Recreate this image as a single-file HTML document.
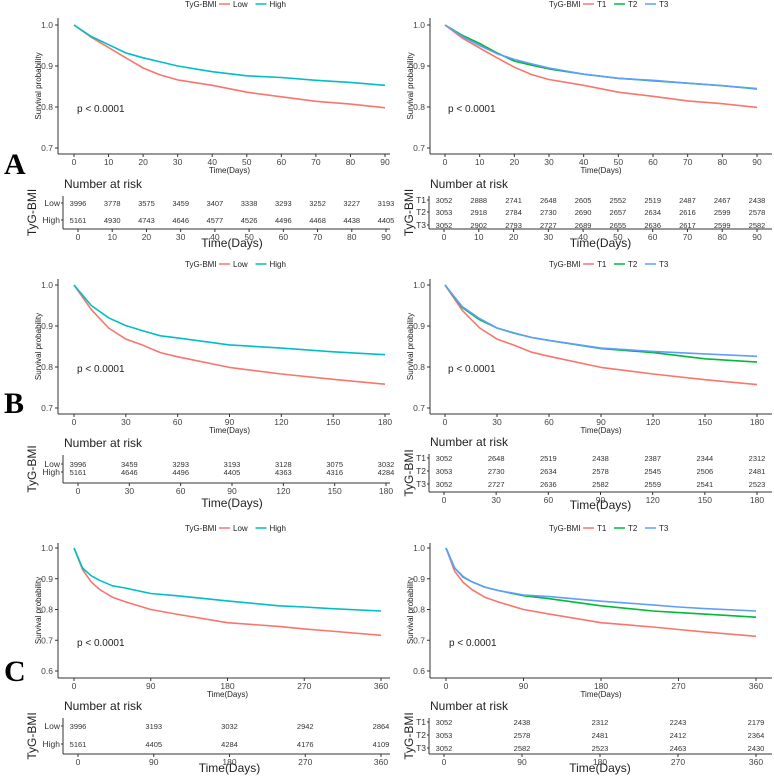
<!DOCTYPE html>
<html><head><meta charset="utf-8"><style>
body{margin:0;background:#fff}
svg{display:block;font-family:"Liberation Sans",sans-serif}
</style></head><body>
<svg id="fig" width="774" height="776" viewBox="0 0 774 776" xmlns="http://www.w3.org/2000/svg">
<text x="4" y="174" font-family="Liberation Serif,serif" font-weight="bold" font-size="30">A</text>
<text x="4" y="413" font-family="Liberation Serif,serif" font-weight="bold" font-size="30">B</text>
<text x="4" y="681" font-family="Liberation Serif,serif" font-weight="bold" font-size="30">C</text>
</svg>
<script>
// ---- data ----
const tA=[0,5,10,15,20,25,30,40,50,60,70,80,90];
const aLow=[1,0.97,0.945,0.92,0.895,0.878,0.866,0.853,0.836,0.825,0.814,0.807,0.798];
const aHigh=[1,0.972,0.952,0.932,0.92,0.91,0.9,0.886,0.876,0.872,0.865,0.86,0.853];
const aT1=[1,0.968,0.944,0.92,0.897,0.879,0.867,0.853,0.836,0.826,0.815,0.808,0.799];
const aT2=[1,0.975,0.955,0.932,0.912,0.902,0.893,0.88,0.87,0.864,0.858,0.852,0.844];
const aT3=[1,0.972,0.95,0.93,0.916,0.905,0.895,0.88,0.87,0.865,0.858,0.852,0.845];
const tB=[0,10,20,30,40,50,60,90,120,150,180];
const bLow=[1,0.94,0.895,0.868,0.853,0.835,0.825,0.799,0.783,0.77,0.758];
const bHigh=[1,0.95,0.92,0.901,0.888,0.876,0.871,0.854,0.846,0.837,0.83];
const bT1=[1,0.938,0.895,0.868,0.853,0.836,0.826,0.799,0.783,0.769,0.757];
const bT2=[1,0.945,0.915,0.895,0.883,0.872,0.865,0.845,0.835,0.82,0.812];
const bT3=[1,0.947,0.918,0.895,0.882,0.872,0.865,0.846,0.838,0.832,0.826];
const tC=[0,10,20,30,45,60,90,120,180,240,270,300,360];
const cLow=[1,0.93,0.89,0.865,0.84,0.825,0.8,0.785,0.757,0.745,0.737,0.73,0.716];
const cHigh=[1,0.935,0.91,0.895,0.877,0.87,0.852,0.845,0.828,0.812,0.808,0.803,0.795];
const cT1=[1,0.925,0.888,0.865,0.84,0.825,0.8,0.785,0.757,0.743,0.735,0.727,0.713];
const cT2=[1,0.935,0.905,0.89,0.873,0.862,0.845,0.835,0.812,0.795,0.79,0.785,0.775];
const cT3=[1,0.935,0.907,0.89,0.873,0.862,0.847,0.842,0.827,0.815,0.808,0.803,0.795];
const ticksA=[0,10,20,30,40,50,60,70,80,90];
const ticksB=[0,30,60,90,120,150,180];
const ticksC=[0,90,180,270,360];
const riskALow=[3996,3778,3575,3459,3407,3338,3293,3252,3227,3193];
const riskAHigh=[5161,4930,4743,4646,4577,4526,4496,4468,4438,4405];
const riskAT1=[3052,2888,2741,2648,2605,2552,2519,2487,2467,2438];
const riskAT2=[3053,2918,2784,2730,2690,2657,2634,2616,2599,2578];
const riskAT3=[3052,2902,2793,2727,2689,2655,2636,2617,2599,2582];
const riskBLow=[3996,3459,3293,3193,3128,3075,3032];
const riskBHigh=[5161,4646,4496,4405,4363,4316,4284];
const riskBT1=[3052,2648,2519,2438,2387,2344,2312];
const riskBT2=[3053,2730,2634,2578,2545,2506,2481];
const riskBT3=[3052,2727,2636,2582,2559,2541,2523];
const riskCLow=[3996,3193,3032,2942,2864];
const riskCHigh=[5161,4405,4284,4176,4109];
const riskCT1=[3052,2438,2312,2243,2179];
const riskCT2=[3053,2578,2481,2412,2364];
const riskCT3=[3052,2582,2523,2463,2430];
const yTicksAB=[0.7,0.8,0.9,1.0];
const yTicksC=[0.6,0.7,0.8,0.9,1.0];

const NS='http://www.w3.org/2000/svg';
const svg=document.getElementById('fig');
function mk(tag,attrs,parent){const e=document.createElementNS(NS,tag);for(const k in attrs)e.setAttribute(k,attrs[k]);(parent||svg).appendChild(e);return e;}
function txt(s,x,y,size,anchor,parent,extra){const e=mk('text',Object.assign({x:x,y:y,'font-size':size,'text-anchor':anchor||'start',fill:'#222'},extra||{}),parent);e.textContent=s;return e;}

const RED='#F8766D',TEAL='#00BFC4',GREEN='#00BA38',BLUE='#619CFF';

function drawPanel(c){
  const g=mk('g',{});
  
  
  const xs=v=>c.x0+(v-0)/(c.xmax)*(c.x1-c.x0);
  const ys=v=>c.yTop+(1-v)/(1-c.ymin)*(c.yBot-c.yTop);
  // legend
  const lg=mk('g',{},g);
  
  
  let lx=c.legX;
  txt('TyG-BMI',lx,c.legY+3,8,'start',lg);
  lx+=34;
  c.series.forEach(s=>{
    const ln=mk('line',{x1:lx,x2:lx+11,y1:c.legY,y2:c.legY,stroke:s.color,'stroke-width':1.5},lg);
    
    
    txt(s.label,lx+14,c.legY+3,8,'start',lg);
    lx+=14+s.label.length*5.5+6;
  });
  // axes
  mk('line',{x1:c.axX,x2:c.axX,y1:c.axTop,y2:c.axY,stroke:'#333','stroke-width':1},g);
  mk('line',{x1:c.axX,x2:c.axEnd,y1:c.axY,y2:c.axY,stroke:'#333','stroke-width':1},g);
  c.yt.forEach(v=>{
    mk('line',{x1:c.axX-3,x2:c.axX,y1:ys(v),y2:ys(v),stroke:'#333'},g);
    txt(v.toFixed(1),c.axX-5,ys(v)+3,8.5,'end',g,{fill:'#444'});
  });
  c.xt.forEach(v=>{
    mk('line',{x1:xs(v),x2:xs(v),y1:c.axY,y2:c.axY+3,stroke:'#333'},g);
    txt(String(v),xs(v),c.axY+11,8.5,'middle',g,{fill:'#444'});
  });
  const xt=txt('Time(Days)',(c.x0+c.x1)/2,c.axY+19,8,'middle',g);
  
  
  const yt=txt('Survival probability',0,0,8,'middle',g,{transform:`translate(${c.axX-17},${(c.axTop+c.axY)/2}) rotate(-90)`});
  
  
  txt('p < 0.0001',c.x0+3,c.pY,10,'start',g);
  // curves
  c.series.forEach(s=>{
    const pts=c.t.map((t,i)=>xs(t).toFixed(1)+','+ys(s.v[i]).toFixed(1)).join(' ');
    const pl=mk('polyline',{points:pts,fill:'none',stroke:s.color,'stroke-width':1.6,'stroke-linejoin':'round'},g);
    
    
  });
  // risk table
  const rg=mk('g',{},g);
  
  
  const rx=v=>c.rx0+v/c.xmax*(c.rx1-c.rx0);
  txt('Number at risk',c.tX+1,c.nY,12,'start',rg);
  mk('line',{x1:c.tX,x2:c.tX,y1:c.nY+8,y2:c.tAx,stroke:'#333'},rg);
  mk('line',{x1:c.tX,x2:c.axEnd,y1:c.tAx,y2:c.tAx,stroke:'#333'},rg);
  c.series.forEach((s,si)=>{
    const ry=c.rowY[si];
    txt(s.label,c.tX-3,ry+3,8.5,'end',rg,{fill:'#333'});
    mk('line',{x1:c.tX-2,x2:c.tX,y1:ry,y2:ry,stroke:'#333'},rg);
    c.xt.forEach((v,i)=>txt(String(s.risk[i]),rx(v),ry+3,7.5,'middle',rg,{fill:'#333'}));
  });
  c.xt.forEach(v=>{
    mk('line',{x1:rx(v),x2:rx(v),y1:c.tAx,y2:c.tAx+3,stroke:'#333'},rg);
    txt(String(v),rx(v),c.tAx+11,8.5,'middle',rg,{fill:'#444'});
  });
  txt('Time(Days)',(c.rx0+c.rx1)/2,c.tAx+c.ttl,12,'middle',rg);
  txt('TyG-BMI',0,0,12,'middle',rg,{transform:`translate(${c.tX-(c.series.length==2?27:16)},${(c.nY+8+c.tAx)/2}) rotate(-90)`});
}

const L={x0:74,x1:385,axX:58,axEnd:390,rx0:78,rx1:386,tX:63,legX:185};
const R={x0:445,x1:757,axX:430,axEnd:772,rx0:444,rx1:757,tX:429,legX:549};
function P(base,o){return Object.assign({},base,o);}

drawPanel(P(L,{name:'panel-a-two-group',xmax:90,t:tA,xt:ticksA,yt:yTicksAB,ymin:0.7,yTop:25,yBot:148,axTop:18,axY:154,legY:4,pY:112,
  nY:188,tAx:229,ttl:18,rowY:[203,220],
  series:[{label:'Low',color:RED,v:aLow,risk:riskALow},{label:'High',color:TEAL,v:aHigh,risk:riskAHigh}]}));
drawPanel(P(R,{name:'panel-a-tertile',xmax:90,t:tA,xt:ticksA,yt:yTicksAB,ymin:0.7,yTop:25,yBot:148,axTop:18,axY:154,legY:4,pY:112,
  nY:188,tAx:229,ttl:18,rowY:[200,212,225],
  series:[{label:'T1',color:RED,v:aT1,risk:riskAT1},{label:'T2',color:GREEN,v:aT2,risk:riskAT2},{label:'T3',color:BLUE,v:aT3,risk:riskAT3}]}));
drawPanel(P(L,{name:'panel-b-two-group',xmax:180,t:tB,xt:ticksB,yt:yTicksAB,ymin:0.7,yTop:285,yBot:408,axTop:279,axY:414,legY:264,pY:372,
  nY:447,tAx:483,ttl:24,rowY:[464,472],
  series:[{label:'Low',color:RED,v:bLow,risk:riskBLow},{label:'High',color:TEAL,v:bHigh,risk:riskBHigh}]}));
drawPanel(P(R,{name:'panel-b-tertile',xmax:180,t:tB,xt:ticksB,yt:yTicksAB,ymin:0.7,yTop:285,yBot:408,axTop:279,axY:414,legY:264,pY:372,
  nY:446,tAx:492,ttl:17,rowY:[458,471,484],
  series:[{label:'T1',color:RED,v:bT1,risk:riskBT1},{label:'T2',color:GREEN,v:bT2,risk:riskBT2},{label:'T3',color:BLUE,v:bT3,risk:riskBT3}]}));
drawPanel(P(L,{name:'panel-c-two-group',x1:381,rx1:381,xmax:360,t:tC,xt:ticksC,yt:yTicksC,ymin:0.6,yTop:548,yBot:671,axTop:543,axY:678,legY:528,pY:646,
  nY:710,tAx:754,ttl:18,rowY:[726,744],
  series:[{label:'Low',color:RED,v:cLow,risk:riskCLow},{label:'High',color:TEAL,v:cHigh,risk:riskCHigh}]}));
drawPanel(P(R,{name:'panel-c-tertile',x0:446,x1:756,rx1:756,xmax:360,t:tC,xt:ticksC,yt:yTicksC,ymin:0.6,yTop:548,yBot:671,axTop:543,axY:678,legY:528,pY:646,
  nY:710,tAx:754,ttl:18,rowY:[722,735,748],
  series:[{label:'T1',color:RED,v:cT1,risk:riskCT1},{label:'T2',color:GREEN,v:cT2,risk:riskCT2},{label:'T3',color:BLUE,v:cT3,risk:riskCT3}]}));
</script>
</body></html>
